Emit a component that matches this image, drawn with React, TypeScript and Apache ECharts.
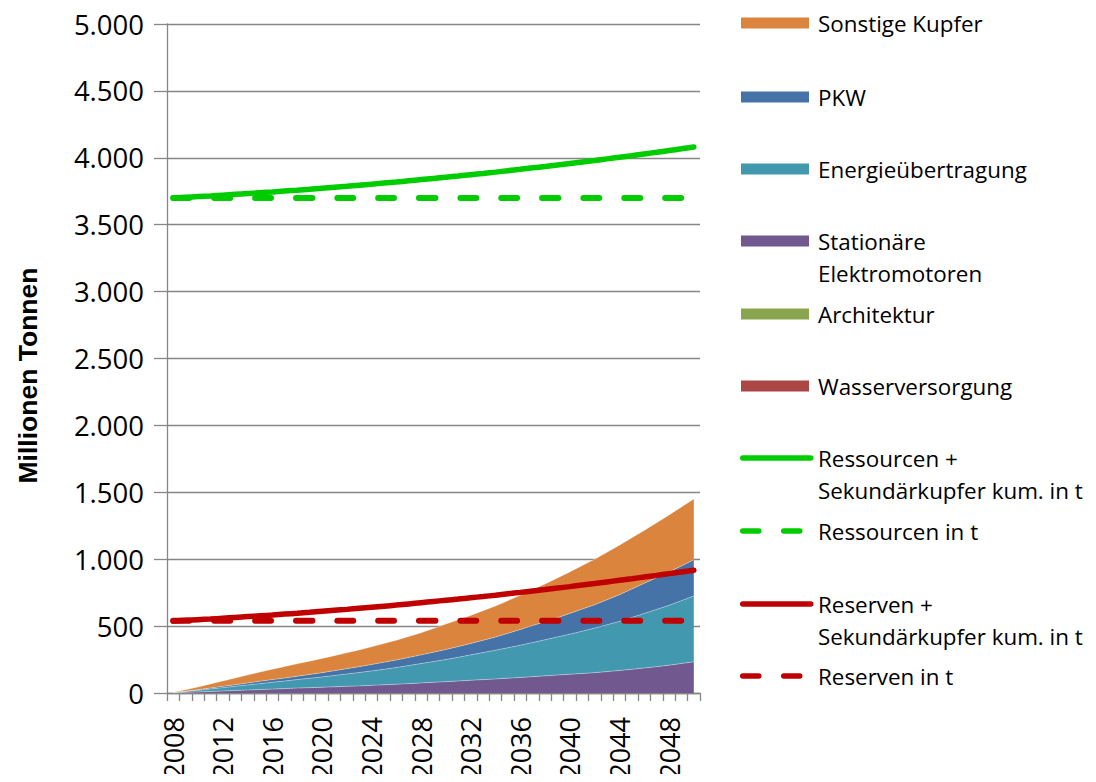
import React, { useEffect, useRef } from "react";
import * as echarts from "echarts";

const years = [
  "2008", "2009", "2010", "2011", "2012", "2013", "2014", "2015", "2016", "2017",
  "2018", "2019", "2020", "2021", "2022", "2023", "2024", "2025", "2026", "2027",
  "2028", "2029", "2030", "2031", "2032", "2033", "2034", "2035", "2036", "2037",
  "2038", "2039", "2040", "2041", "2042", "2043", "2044", "2045", "2046", "2047",
  "2048", "2049", "2050",
];

const wasserversorgung = [
  0, 0, 0, 0, 0, 0, 0, 0, 0, 0, 0, 0, 0, 0, 0, 0, 0, 0, 0, 0, 0, 0,
  0, 0, 0, 0, 0, 0, 0, 0, 0, 0, 0, 0, 0, 0, 0, 0, 0, 0, 0, 0, 0,
];
const architektur = [
  0, 0, 0, 0, 0, 0, 0, 0, 0, 0, 0, 0, 0, 0, 0, 0, 0, 0, 0, 0, 0, 0,
  0, 0, 0, 0, 0, 0, 0, 0, 0, 0, 0, 0, 0, 0, 0, 0, 0, 0, 0, 0, 0,
];
const stationaer = [
  2, 5, 8, 12, 15, 19, 22, 26, 29, 33, 37, 40, 43, 46, 50, 53, 57, 61, 66, 70,
  75, 80, 85, 90, 95, 100, 105, 111, 116, 122, 128, 134, 140, 146, 152, 160,
  168, 177, 187, 197, 208, 220, 233,
];
const energie = [
  1, 7, 12, 18, 25, 31, 38, 44, 51, 57, 63, 70, 77, 85, 92, 100, 108, 116, 124,
  135, 145, 155, 165, 177, 190, 202, 215, 227, 241, 255, 270, 285, 300, 316,
  333, 350, 367, 388, 408, 428, 447, 470, 492,
];
const pkw = [
  1, 2, 5, 7, 10, 12, 15, 18, 20, 22, 25, 28, 32, 36, 40, 44, 48, 53, 57, 61,
  65, 70, 75, 80, 85, 92, 98, 108, 118, 127, 135, 144, 155, 165, 175, 187, 200,
  212, 225, 237, 250, 260, 270,
];
const sonstige = [
  1, 11, 20, 30, 40, 50, 60, 69, 78, 86, 93, 100, 106, 112, 118, 125, 132, 140,
  148, 156, 165, 177, 190, 200, 210, 221, 232, 244, 255, 268, 282, 297, 310,
  325, 340, 355, 370, 383, 395, 410, 425, 440, 455,
];
const ressourcenPlus = [
  3700, 3705, 3710, 3715, 3721, 3727, 3733, 3739, 3745, 3752, 3758, 3765, 3773,
  3780, 3787, 3795, 3803, 3811, 3819, 3828, 3837, 3846, 3855, 3864, 3874, 3883,
  3893, 3904, 3914, 3925, 3935, 3946, 3957, 3969, 3980, 3992, 4004, 4016, 4029,
  4041, 4054, 4067, 4080,
];
const ressourcen = [
  3700, 3700, 3700, 3700, 3700, 3700, 3700, 3700, 3700, 3700, 3700, 3700, 3700,
  3700, 3700, 3700, 3700, 3700, 3700, 3700, 3700, 3700, 3700, 3700, 3700, 3700,
  3700, 3700, 3700, 3700, 3700, 3700, 3700, 3700, 3700, 3700, 3700, 3700, 3700,
  3700, 3700, 3700, 3700,
];
const reservenPlus = [
  538, 543, 548, 553, 559, 565, 571, 577, 583, 590, 596, 603, 611, 618, 625,
  633, 641, 649, 657, 666, 675, 684, 693, 702, 712, 721, 731, 742, 752, 763,
  773, 784, 795, 807, 818, 830, 842, 854, 867, 879, 892, 905, 918,
];
const reserven = [
  540, 540, 540, 540, 540, 540, 540, 540, 540, 540, 540, 540, 540, 540, 540,
  540, 540, 540, 540, 540, 540, 540, 540, 540, 540, 540, 540, 540, 540, 540,
  540, 540, 540, 540, 540, 540, 540, 540, 540, 540, 540, 540, 540,
];

const NAME_WASSER = "Wasserversorgung";
const NAME_ARCH = "Architektur";
const NAME_STAT = "Stationäre\nElektromotoren";
const NAME_ENER = "Energieübertragung";
const NAME_PKW = "PKW";
const NAME_SONST = "Sonstige Kupfer";
const NAME_RESS_PLUS = "Ressourcen +\nSekundärkupfer kum. in t";
const NAME_RESS = "Ressourcen in t";
const NAME_RES_PLUS = "Reserven +\nSekundärkupfer kum. in t";
const NAME_RES = "Reserven in t";

const FONT = "'Open Sans', 'Liberation Sans', sans-serif";
const LEG_FS = 22.4;
const LH = 32;

function fmtDe(v: number): string {
  if (v >= 1000) {
    const t = Math.floor(v / 1000);
    const r = String(v % 1000).padStart(3, "0");
    return `${t}.${r}`;
  }
  return String(v);
}

function legendItem(name: string, center: number, kind: "rect" | "line", twoLine: boolean) {
  const top = twoLine ? center - 48 : center - 16;
  const item: any = {
    data: [name],
    left: kind === "rect" ? 741 : 740,
    top,
    orient: "vertical",
    padding: 0,
    itemWidth: 68,
    itemHeight: 11,
    selectedMode: false,
    formatter: (n: string) => (n.indexOf("\n") >= 0 ? "\n" + n : n),
    textStyle: {
      fontFamily: FONT,
      fontSize: LEG_FS,
      color: "#000",
      lineHeight: LH,
      padding: [0, 0, 0, kind === "rect" ? 4 : 2.25],
    },
  };
  if (kind === "rect") {
    item.icon = "rect";
  } else {
    item.itemStyle = { opacity: 0 };
    item.lineStyle = { width: 5.5, cap: "round" };
  }
  return item;
}

function areaSeries(name: string, data: number[], color: string, visibleEdge: boolean) {
  return {
    name,
    type: "line",
    stack: "total",
    data,
    symbol: "none",
    color,
    itemStyle: { color },
    lineStyle: visibleEdge ? { width: 1, color: "rgba(255,255,255,0.35)" } : { width: 0 },
    areaStyle: { color, opacity: 1 },
    z: 1,
  };
}

function lineSeries(name: string, data: number[], color: string, dashed: boolean) {
  return {
    name,
    type: "line",
    data,
    symbol: "none",
    smooth: true,
    color,
    itemStyle: { color },
    lineStyle: {
      color,
      width: dashed ? 6 : 5.5,
      type: dashed ? [16, 25] : "solid",
      cap: "round",
    },
    z: 3,
  };
}

export default function App() {
  const ref = useRef<HTMLDivElement>(null);
  useEffect(() => {
    if (!ref.current) return;
    const chart = echarts.init(ref.current, undefined, { renderer: "svg" });
    chart.setOption({
      animation: false,
      backgroundColor: "#fff",
      grid: { left: 167, right: 396, top: 24, bottom: 89, containLabel: false },
      legend: [
        legendItem(NAME_SONST, 23, "rect", false),
        legendItem(NAME_PKW, 97, "rect", false),
        legendItem(NAME_ENER, 169, "rect", false),
        legendItem(NAME_STAT, 241, "rect", true),
        legendItem(NAME_ARCH, 314, "rect", false),
        legendItem(NAME_WASSER, 386, "rect", false),
        legendItem(NAME_RESS_PLUS, 458, "line", true),
        legendItem(NAME_RESS, 531, "line", false),
        legendItem(NAME_RES_PLUS, 604, "line", true),
        legendItem(NAME_RES, 676, "line", false),
      ],
      xAxis: {
        type: "category",
        data: years,
        boundaryGap: true,
        axisLine: { lineStyle: { color: "#868686", width: 1.3 } },
        axisTick: { show: true, interval: 0, length: 8, lineStyle: { color: "#868686", width: 1.3 } },
        axisLabel: {
          interval: 3,
          rotate: 90,
          margin: 24,
          fontFamily: FONT,
          fontSize: 27,
          color: "#000",
        },
        splitLine: { show: false },
      },
      yAxis: {
        type: "value",
        min: 0,
        max: 5000,
        interval: 500,
        name: "Millionen Tonnen",
        nameLocation: "middle",
        nameRotate: 90,
        nameGap: 126,
        nameTextStyle: {
          fontFamily: "'Liberation Sans', Arial, sans-serif",
          fontWeight: "bold",
          fontSize: 26.5,
          color: "#000",
          padding: [0, 34, 0, 0],
        },
        axisLine: { show: true, lineStyle: { color: "#868686", width: 1.3 } },
        axisTick: { show: true, length: 13, lineStyle: { color: "#868686", width: 1.3 } },
        axisLabel: {
          margin: 23,
          fontFamily: FONT,
          fontSize: 27.5,
          color: "#000",
          formatter: (v: number) => fmtDe(v),
        },
        splitLine: { show: true, lineStyle: { color: "#868686", width: 1.3 } },
      },
      series: [
        areaSeries(NAME_WASSER, wasserversorgung, "#AA4643", false),
        areaSeries(NAME_ARCH, architektur, "#89A54E", false),
        areaSeries(NAME_STAT, stationaer, "#71588F", true),
        areaSeries(NAME_ENER, energie, "#4198AF", true),
        areaSeries(NAME_PKW, pkw, "#4572A7", true),
        areaSeries(NAME_SONST, sonstige, "#DB843D", true),
        lineSeries(NAME_RESS_PLUS, ressourcenPlus, "#00CC00", false),
        lineSeries(NAME_RESS, ressourcen, "#00CC00", true),
        lineSeries(NAME_RES_PLUS, reservenPlus, "#C00000", false),
        lineSeries(NAME_RES, reserven, "#C00000", true),
      ],
    });
    return () => chart.dispose();
  }, []);
  return <div ref={ref} style={{ width: 1096, height: 782, margin: -8 }} />;
}
